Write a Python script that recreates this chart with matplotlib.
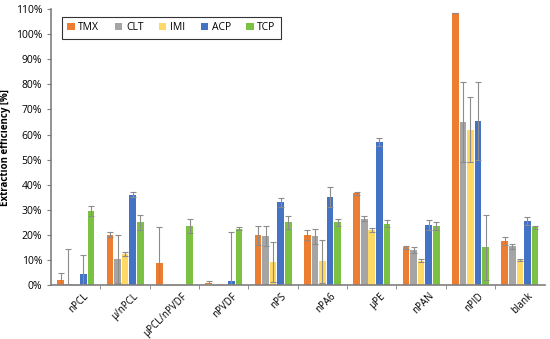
import numpy as np
import matplotlib.pyplot as plt
from matplotlib.ticker import PercentFormatter, FixedLocator

plt.rcParams['font.family'] = ['Open Sans', 'DejaVu Sans']

categories = ["nPCL", "μ/nPCL", "μPCL/nPVDF", "nPVDF", "nPS", "nPA6", "μPE", "nPAN", "nPID", "blank"]
series = ["TMX", "CLT", "IMI", "ACP", "TCP"]

tmx = [2.0, 20.0, 9.0, 1.0, 19.8, 19.8, 36.7, 15.0, 108.5, 17.5]
clt = [0.5, 10.5, 0.0, 0.0, 19.5, 19.5, 26.5, 13.8, 65.0, 15.5]
imi = [0.0, 12.5, 0.0, 0.0, 9.3, 9.5, 22.0, 9.8, 62.0, 10.0]
acp = [4.5, 36.0, 0.0, 1.5, 33.0, 35.0, 57.0, 24.0, 65.5, 25.5]
tcp = [29.5, 25.0, 23.5, 22.5, 25.0, 25.0, 24.5, 23.5, 15.0, 23.0]

tmx_err = [3.0, 1.0, 14.0, 0.5, 3.8, 2.0, 0.6, 0.6, 0.0, 1.5]
clt_err = [14.0, 9.5, 0.0, 0.0, 4.0, 3.0, 1.0, 1.2, 16.0, 1.0]
imi_err = [0.0, 0.8, 0.0, 0.0, 8.0, 8.5, 0.8, 0.5, 13.0, 0.3]
acp_err = [7.5, 1.0, 0.0, 19.5, 1.7, 4.0, 1.5, 2.0, 15.5, 1.5]
tcp_err = [2.0, 3.0, 2.8, 0.5, 2.5, 1.5, 1.3, 1.5, 13.0, 0.5]

values = [tmx, clt, imi, acp, tcp]
errors = [tmx_err, clt_err, imi_err, acp_err, tcp_err]
colors = ["#ED7D31", "#A5A5A5", "#FFD966", "#4472C4", "#7CC242"]

fig = plt.figure(figsize=(5.5, 3.39), dpi=100)
ax = fig.add_axes([0.093, 0.159, 0.897, 0.814])

x = np.arange(len(categories))
w = 0.135
step = 0.155
for i, (vals, errs, c) in enumerate(zip(values, errors, colors)):
    pos = x + (i - 2) * step
    v = np.array(vals) / 100
    e = np.array(errs) / 100
    ax.bar(pos, v, width=w, color=c, label=series[i], zorder=2)
    ax.errorbar(pos, v, yerr=e, fmt='none', ecolor='#8C8C8C', elinewidth=0.8,
                capsize=2, capthick=0.8, zorder=3)

ax.set_xlim(-0.5, len(categories) - 0.5)
ax.set_ylim(0, 1.1)
ax.set_yticks(np.arange(0, 1.11, 0.1))
ax.yaxis.set_major_formatter(PercentFormatter(1.0, decimals=0))
ax.set_xticks(x + 0.15)
ax.set_xticklabels(categories, rotation=45, ha='right', rotation_mode='anchor', fontsize=7)
ax.tick_params(axis='x', which='major', length=0, pad=4)
ax.xaxis.set_minor_locator(FixedLocator(np.arange(0.5, len(categories) - 0.5, 1)))
ax.tick_params(axis='x', which='minor', length=3, color='#7F7F7F')
ax.tick_params(axis='y', labelsize=7.5, length=3, color='#7F7F7F')
for s in ['top', 'right']:
    ax.spines[s].set_visible(False)
for s in ['left', 'bottom']:
    ax.spines[s].set_color('#7F7F7F')
    ax.spines[s].set_linewidth(1.2)

ax.set_ylabel("Extraction efficiency [%]", fontsize=7, fontweight='bold', labelpad=3)

leg = ax.legend(loc='upper left', bbox_to_anchor=(0.012, 0.99), ncol=5, fontsize=7.5,
                frameon=True, fancybox=False, handlelength=0.7, handleheight=0.7,
                handletextpad=0.35, columnspacing=1.5, borderpad=0.5)
leg.get_frame().set_edgecolor('black')
leg.get_frame().set_linewidth(0.8)

fig.savefig("out.png", dpi=100)
